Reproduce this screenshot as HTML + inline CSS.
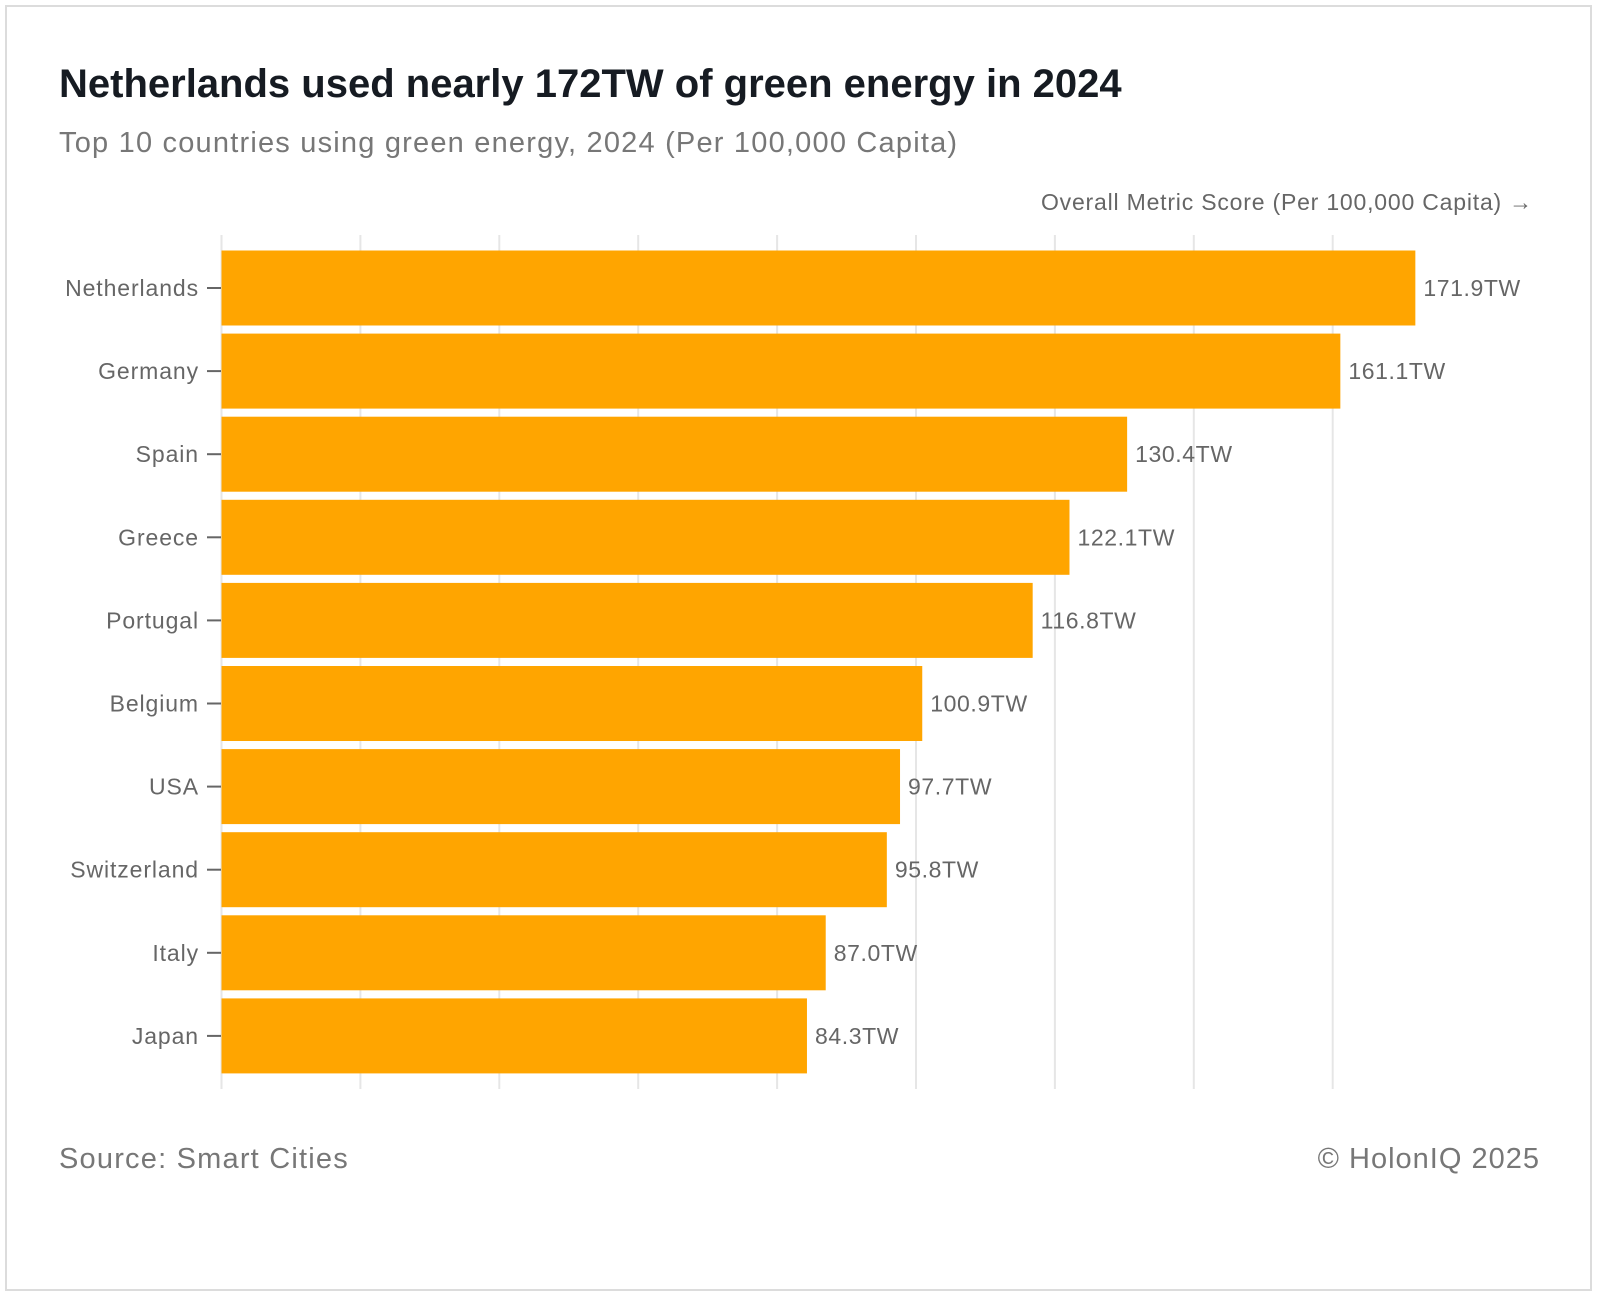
<!DOCTYPE html>
<html><head><meta charset="utf-8"><style>
body{margin:0;background:#fff;width:1600px;height:1298px;overflow:hidden;font-family:"Liberation Sans",sans-serif;}
#frame{position:absolute;left:5px;top:5px;width:1587px;height:1286px;border:2px solid #dcdcdc;box-sizing:border-box;}
#title{position:absolute;left:59px;top:62px;font-size:40px;font-weight:bold;color:#161b22;white-space:nowrap;}
#subtitle{position:absolute;left:59px;top:127px;font-size:29px;color:#777;white-space:nowrap;letter-spacing:1.2px;}
.foot{position:absolute;top:1143px;font-size:29px;color:#777;letter-spacing:1.2px;}
svg text{font-family:"Liberation Sans",sans-serif;}
</style></head><body>
<div id="frame"></div>
<div id="title">Netherlands used nearly 172TW of green energy in 2024</div>
<div id="subtitle">Top 10 countries using green energy, 2024 (Per 100,000 Capita)</div>
<svg id="chart" width="1600" height="1298" style="position:absolute;left:0;top:0"></svg>
<div class="foot" style="left:59px">Source: Smart Cities</div>
<div class="foot" style="right:60px;letter-spacing:1px">© HolonIQ 2025</div>
<script>
const categories=["Netherlands","Germany","Spain","Greece","Portugal","Belgium","USA","Switzerland","Italy","Japan"];
const values=[171.9,161.1,130.4,122.1,116.8,100.9,97.7,95.8,87.0,84.3];
const ticks=[0,20,40,60,80,100,120,140,160];
const NS="http://www.w3.org/2000/svg";
const svg=document.getElementById('chart');
const x0=221.5,unit=6.945,top0=250.5,step=83.1,barH=75;
const xs=v=>x0+v*unit;
const ys=i=>top0+i*step;
function mk(t,a){const e=document.createElementNS(NS,t);for(const k in a)e.setAttribute(k,a[k]);svg.appendChild(e);return e;}
ticks.forEach(t=>{
  const g=mk('line',{x1:xs(t),x2:xs(t),y1:235,y2:1089,stroke:'#e6e6e6','stroke-width':2});
  
  
});
const at=mk('text',{x:1533,y:210,'font-size':23,fill:'#666','text-anchor':'end','letter-spacing':0.8});
at.textContent='Overall Metric Score (Per 100,000 Capita) →';


categories.forEach((c,i)=>{
  const y=ys(i);
  const r=mk('rect',{x:x0,y:y,width:xs(values[i])-x0,height:barH,fill:'#ffa500'});
  
  
  const tk=mk('line',{x1:207,x2:221,y1:y+barH/2,y2:y+barH/2,stroke:'#666','stroke-width':2});
  
  
  const l=mk('text',{x:199,y:y+barH/2+8,'font-size':23,fill:'#666','text-anchor':'end','letter-spacing':0.9});
  l.textContent=c;
  
  
  const v=mk('text',{x:xs(values[i])+8,y:y+barH/2+8,'font-size':23,fill:'#666','letter-spacing':0.6});
  v.textContent=values[i].toFixed(1)+'TW';
  
  
});
</script>
</body></html>
